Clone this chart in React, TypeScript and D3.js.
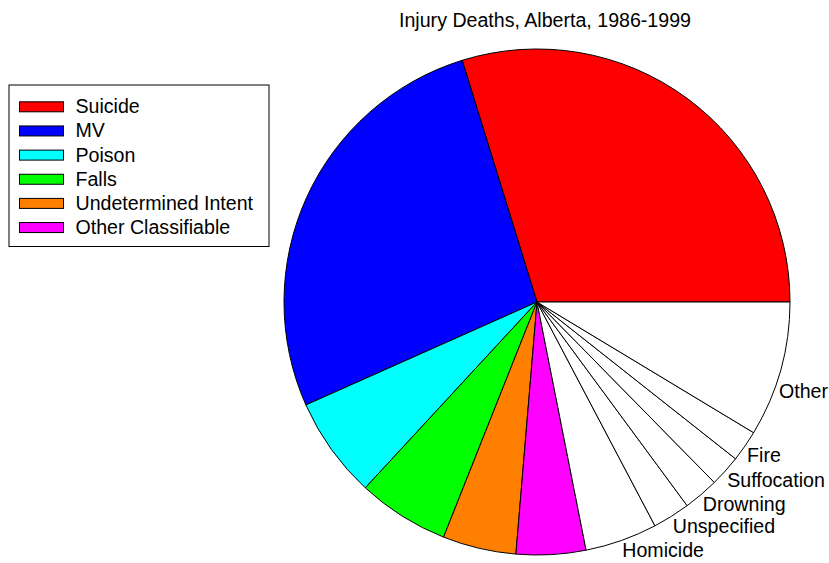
import React from "react";
import * as d3 from "d3";

const categories = [
  "Suicide",
  "MV",
  "Poison",
  "Falls",
  "Undetermined Intent",
  "Other Classifiable",
  "Homicide",
  "Unspecified",
  "Drowning",
  "Suffocation",
  "Fire",
  "Other",
];
const values = [29.78, 26.89, 6.46, 5.85, 4.69, 4.44, 4.61, 2.39, 2.25, 2.0, 2.0, 8.64];
const legendCategories = ["Suicide", "MV", "Poison", "Falls", "Undetermined Intent", "Other Classifiable"];
const sliceColors = ["#FF0000", "#0000FF", "#00FFFF", "#00FF00", "#FF8000", "#FF00FF"];
const title = "Injury Deaths, Alberta, 1986-1999";

const W = 829;
const H = 563;
const FONT = "'Liberation Sans', Arial, Helvetica, sans-serif";

let ctx: CanvasRenderingContext2D | null = null;
function textWidth(s: string, size: number) {
  if (!ctx && typeof document !== "undefined") {
    ctx = document.createElement("canvas").getContext("2d");
  }
  if (!ctx) return s.length * size * 0.55;
  ctx.font = `${size}px ${FONT}`;
  return ctx.measureText(s).width;
}

export default function App() {
  const cx = 537;
  const cy = 302;
  const r = 253;
  const fs = 19.6;

  const data = categories.map((c, i) => ({ name: c, value: values[i], i }));
  const pie = d3
    .pie<{ name: string; value: number; i: number }>()
    .value((d) => d.value)
    .sort(null)
    .startAngle(Math.PI / 2)
    .endAngle(Math.PI / 2 - 2 * Math.PI);
  const arcs = pie(data);
  const arcGen = d3.arc<d3.PieArcDatum<any>>().innerRadius(0).outerRadius(r);

  const color = (i: number) => (i < sliceColors.length ? sliceColors[i] : "#FFFFFF");

  return (
    <svg
      width={W}
      height={H}
      style={{ position: "absolute", left: 0, top: 0, background: "#fff" }}
      fontFamily={FONT}
    >
      <rect x={0} y={0} width={W} height={H} fill="#fff" />
      <text x={545} y={27} textAnchor="middle" fontSize={fs} fill="#000">
        {title}
      </text>
      <g transform={`translate(${cx},${cy})`}>
        {arcs.map((a) => (
          <path
            key={a.data.name}
            d={arcGen(a) as string}
            fill={color(a.data.i)}
            stroke="#000"
            strokeWidth={1}
            strokeLinejoin="round"
          />
        ))}
        {arcs
          .filter((a) => a.data.i >= sliceColors.length)
          .map((a) => {
            const mid = (a.startAngle + a.endAngle) / 2;
            const rr = r * 1.01;
            let x = Math.sin(mid) * rr;
            let y = -Math.cos(mid) * rr;
            // keep the label inside the picture: slide it down along the rim
            const tw = textWidth(a.data.name, fs);
            const maxX = W - cx - tw - 1;
            if (x > maxX) {
              x = maxX;
              y = Math.sqrt(Math.max(0, rr * rr - x * x));
            }
            return (
              <text
                key={"l" + a.data.name}
                x={x}
                y={y + fs * 0.72}
                textAnchor="start"
                fontSize={fs}
                fill="#000"
              >
                {a.data.name}
              </text>
            );
          })}
      </g>
      <g>
        <rect x={9} y={85} width={260} height={161.5} fill="#fff" stroke="#000" strokeWidth={1} />
        {legendCategories.map((c, i) => {
          const base = 113.3 + i * 24.15;
          return (
            <g key={"lg" + c}>
              <rect
                x={19.5}
                y={base - 11.5}
                width={44}
                height={10}
                fill={sliceColors[i]}
                stroke="#000"
                strokeWidth={1}
              />
              <text x={75.5} y={base} fontSize={fs} fill="#000">
                {c}
              </text>
            </g>
          );
        })}
      </g>
    </svg>
  );
}
